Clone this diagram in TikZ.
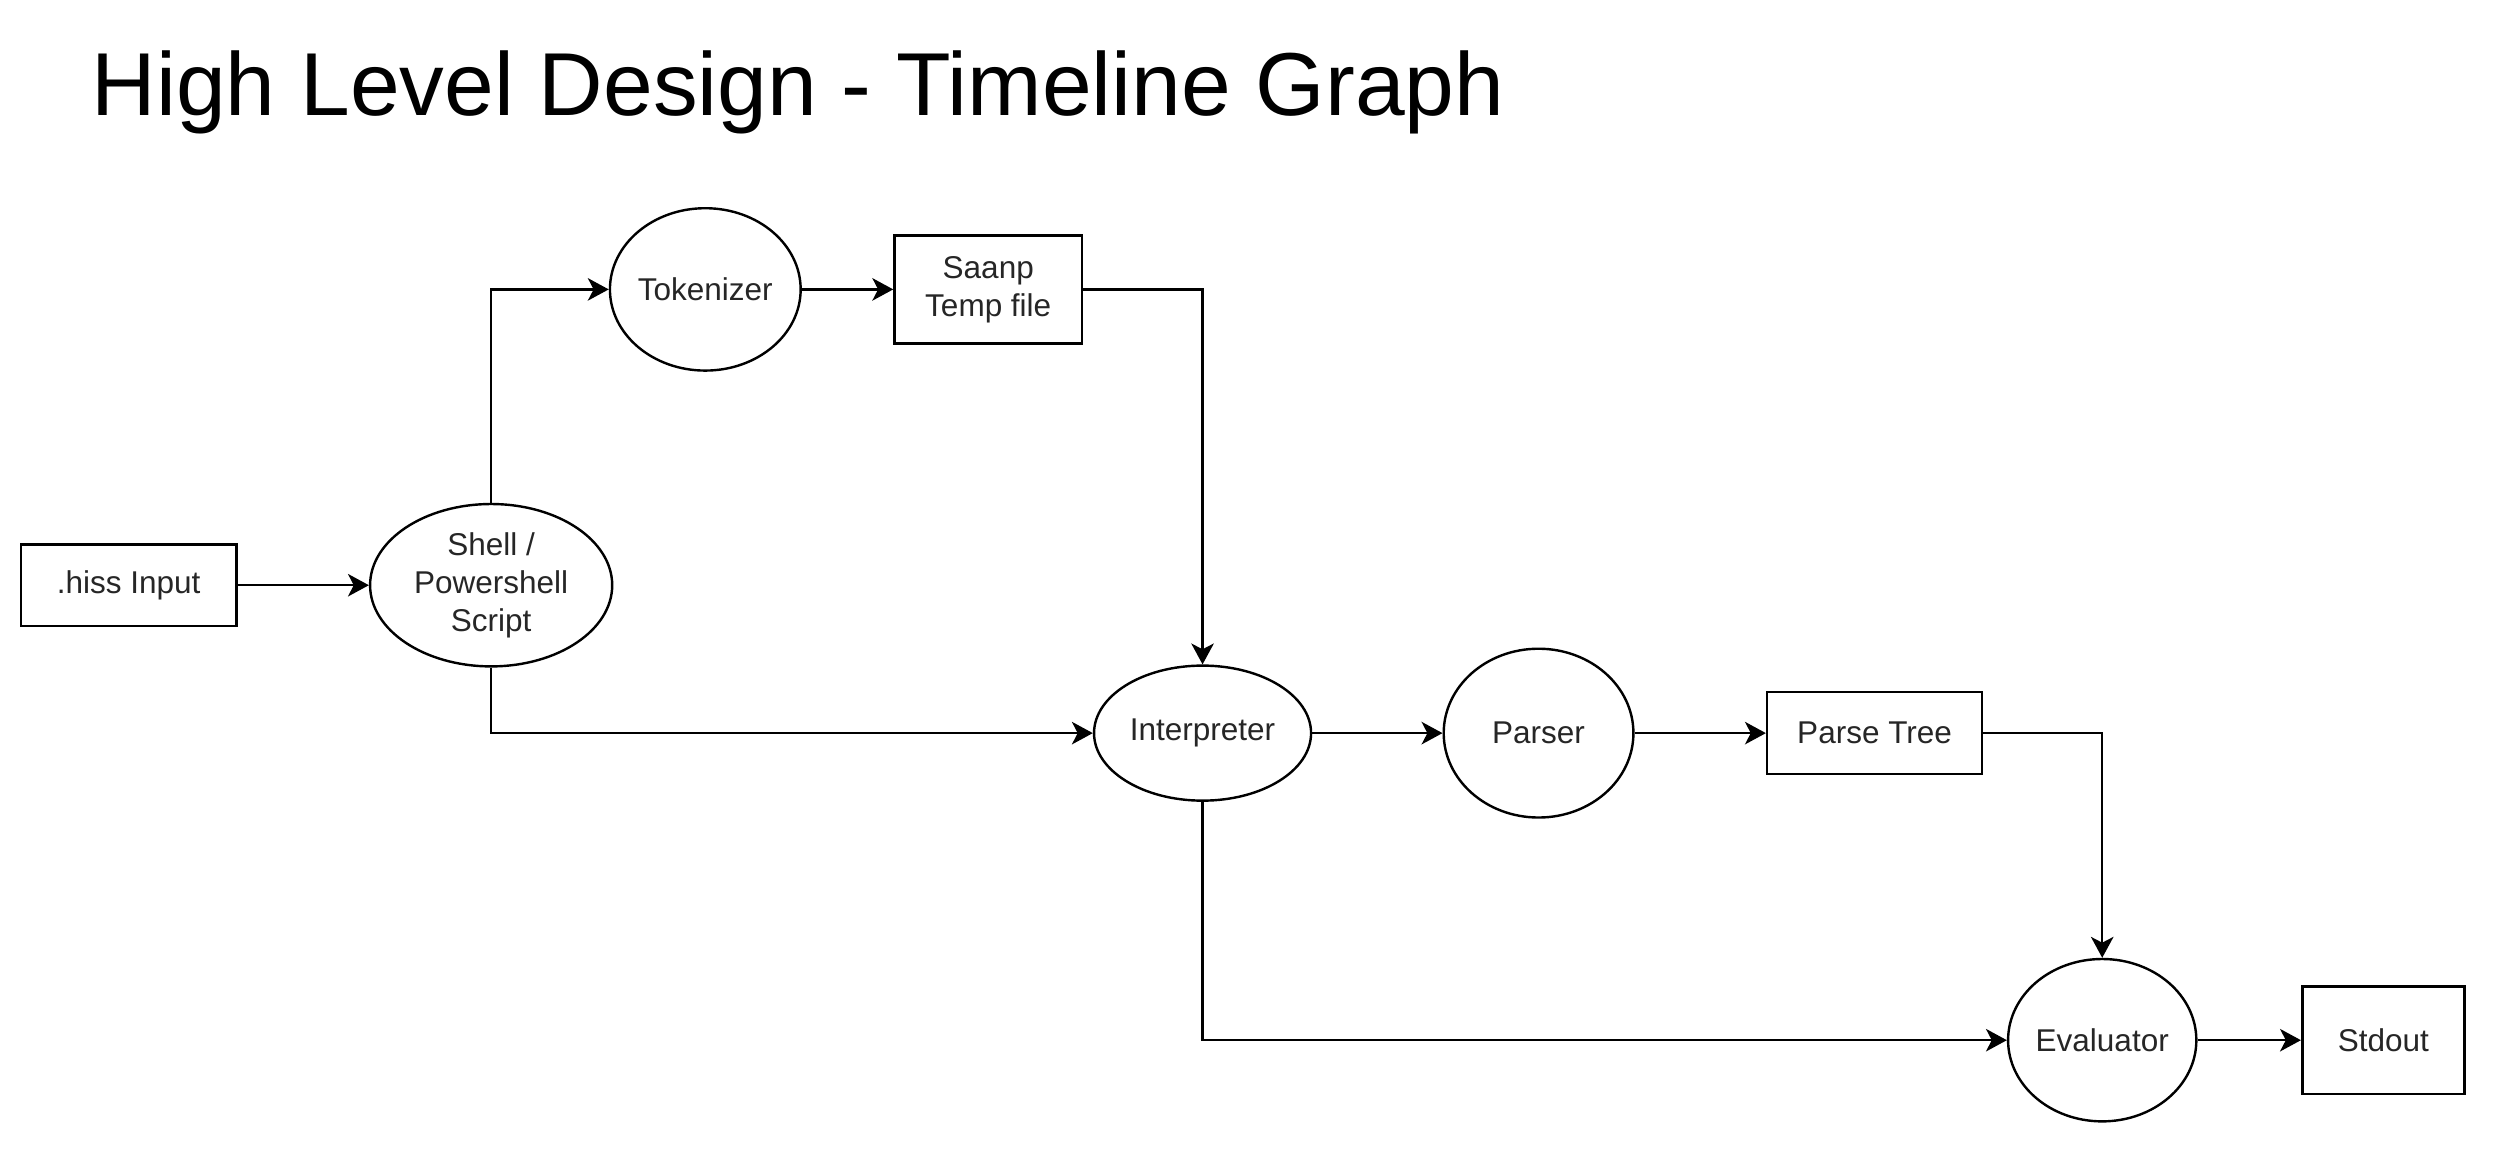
\documentclass[tikz,border=0pt]{standalone}
\usepackage{fontspec}
\setmainfont{Liberation Sans}
\usetikzlibrary{shapes.geometric,arrows.meta}
\begin{document}
\begin{tikzpicture}[x=0.5pt,y=-0.5pt,
  every node/.style={font=\fontsize{9.8}{11.75}\selectfont, text=black!85, align=center, inner sep=0pt},
  proc/.style={ellipse, draw=black, line width=0.75pt},
  box/.style={rectangle, draw=black, line width=0.8pt},
  flow/.style={draw=black, line width=0.7pt, -{Stealth[length=6.5pt,width=7pt,inset=1.8pt]}}]
\useasboundingbox (0,0) rectangle (1560,719);
\node[anchor=base west, font=\fontsize{27.8}{33}\selectfont, text=black] (title) at (56.7,71.9) {High Level Design - Timeline Graph};
\node[box, minimum width=67pt, minimum height=25.25pt] (hiss) at (80,364) {.hiss Input};
\node[proc, minimum width=75.3pt, minimum height=50.5pt] (shell) at (305.5,364) {Shell /\\Powershell\\Script};
\node[proc, minimum width=58pt, minimum height=50.5pt] (tok) at (438.7,180) {Tokenizer};
\node[box, minimum width=58.3pt, minimum height=33.6pt] (saanp) at (614.7,180) {Saanp\\Temp file};
\node[proc, minimum width=67.5pt, minimum height=42pt] (interp) at (748,456) {Interpreter};
\node[proc, minimum width=59pt, minimum height=52.5pt] (parser) at (957,456) {Parser};
\node[box, minimum width=66.8pt, minimum height=25.5pt] (ptree) at (1166,456) {Parse Tree};
\node[proc, minimum width=58.5pt, minimum height=50.5pt] (eval) at (1307.6,647) {Evaluator};
\node[box, minimum width=50.5pt, minimum height=33.5pt] (stdout) at (1482.5,647) {Stdout};
\draw[flow] (hiss.east) -- (shell.west);
\draw[flow] (shell.north) |- (tok.west);
\draw[flow] (tok.east) -- (saanp.west);
\draw[flow] (saanp.east) -| (interp.north);
\draw[flow] (shell.south) |- (interp.west);
\draw[flow] (interp.east) -- (parser.west);
\draw[flow] (parser.east) -- (ptree.west);
\draw[flow] (ptree.east) -| (eval.north);
\draw[flow] (interp.south) |- (eval.west);
\draw[flow] (eval.east) -- (stdout.west);
\end{tikzpicture}
\end{document}
